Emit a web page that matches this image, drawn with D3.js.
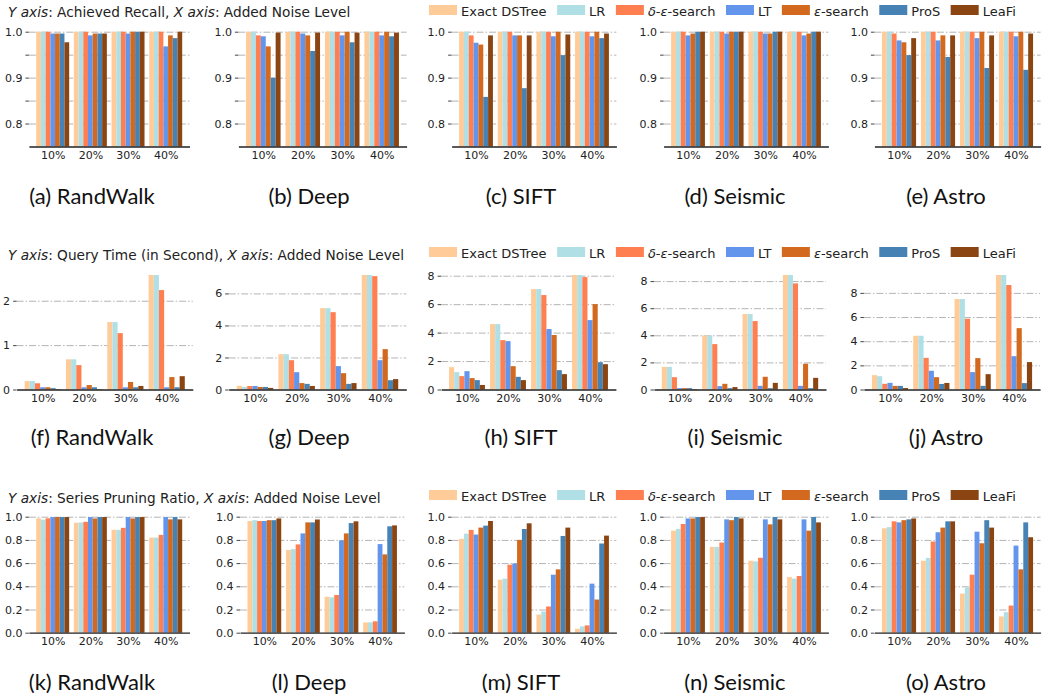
<!DOCTYPE html>
<html>
<head>
<meta charset="utf-8">
<script src="https://cdn.jsdelivr.net/npm/d3@7/dist/d3.min.js"></script>
<style>
  body { margin: 0; background: #fff; }
  svg { display: block; }
  .tick text { font-family: "DejaVu Sans", sans-serif; font-size: 11px; fill: #222; }
  .legend text, .row-title { font-family: "DejaVu Sans", sans-serif; fill: #222; }
  .caption { font-family: "Linux Biolinum O", Lato, sans-serif; font-size: 22px; fill: #111; }
</style>
</head>
<body>
<svg id="chart" width="1046" height="699"></svg>
<script>
// categories / series
const noiseLevels = ['10%', '20%', '30%', '40%'];
const methods = ['Exact DSTree', 'LR', 'δ-ε-search', 'LT', 'ε-search', 'ProS', 'LeaFi'];
const methodColors = ['#FFCC99', '#B0E0E6', '#FF7F50', '#6495ED', '#D2691E', '#4682B4', '#8B4513'];
const datasets = ['RandWalk', 'Deep', 'SIFT', 'Seismic', 'Astro'];

// achieved recall, one row per noise level, one value per method
const recallRandWalk = [
    [1.0, 1.0, 1.0, 0.996, 0.996, 0.996, 0.977],
    [1.0, 1.0, 1.0, 0.992, 0.996, 0.996, 0.996],
    [1.0, 1.0, 1.0, 0.996, 1.0, 1.0, 1.0],
    [1.0, 1.0, 1.0, 0.968, 0.992, 0.986, 1.0]
];
const recallDeep = [
    [1.0, 1.0, 0.992, 0.990, 0.968, 0.900, 0.998],
    [1.0, 1.0, 1.0, 0.996, 0.992, 0.958, 0.998],
    [1.0, 1.0, 1.0, 0.992, 1.0, 0.977, 0.998],
    [1.0, 1.0, 1.0, 0.992, 1.0, 0.990, 0.998]
];
const recallSIFT = [
    [1.0, 1.0, 0.992, 0.976, 0.972, 0.858, 0.992],
    [1.0, 1.0, 1.0, 0.992, 0.992, 0.877, 0.992],
    [1.0, 1.0, 1.0, 0.990, 1.0, 0.949, 0.994],
    [1.0, 1.0, 1.0, 0.990, 1.0, 0.986, 0.996]
];
const recallSeismic = [
    [1.0, 1.0, 1.0, 0.992, 0.996, 1.0, 1.0],
    [1.0, 1.0, 1.0, 0.996, 1.0, 1.0, 1.0],
    [1.0, 1.0, 1.0, 0.996, 0.996, 1.0, 1.0],
    [1.0, 1.0, 1.0, 0.992, 0.996, 1.0, 1.0]
];
const recallAstro = [
    [1.0, 1.0, 0.996, 0.981, 0.977, 0.949, 0.986],
    [1.0, 1.0, 1.0, 0.981, 0.992, 0.945, 0.992],
    [1.0, 1.0, 1.0, 0.986, 1.0, 0.921, 0.992],
    [1.0, 1.0, 1.0, 0.990, 1.0, 0.917, 0.996]
];

// query time in seconds
const timeRandWalk = [
    [0.19, 0.19, 0.14, 0.05, 0.05, 0.03, 0.01],
    [0.68, 0.68, 0.55, 0.05, 0.10, 0.05, 0.01],
    [1.52, 1.52, 1.27, 0.05, 0.17, 0.05, 0.08],
    [2.58, 2.58, 2.24, 0.05, 0.28, 0.05, 0.30]
];
const timeDeep = [
    [0.23, 0.16, 0.22, 0.22, 0.16, 0.16, 0.10],
    [2.21, 2.21, 1.83, 1.08, 0.40, 0.35, 0.22],
    [5.08, 5.08, 4.83, 1.46, 1.02, 0.35, 0.40],
    [7.15, 7.15, 7.08, 1.83, 2.52, 0.58, 0.65]
];
const timeSIFT = [
    [1.57, 1.22, 0.94, 1.29, 0.80, 0.66, 0.32],
    [4.60, 4.60, 3.47, 3.40, 1.64, 0.89, 0.66],
    [7.06, 7.06, 6.64, 4.25, 3.83, 1.36, 1.08],
    [8.05, 8.05, 7.90, 4.88, 6.00, 1.92, 1.78]
];
const timeSeismic = [
    [1.67, 1.67, 0.91, 0.10, 0.10, 0.10, 0.03],
    [3.99, 3.99, 3.35, 0.25, 0.42, 0.10, 0.18],
    [5.57, 5.57, 5.05, 0.27, 0.94, 0.10, 0.49],
    [8.45, 8.45, 7.83, 0.27, 1.90, 0.10, 0.86]
];
const timeAstro = [
    [1.19, 1.10, 0.47, 0.55, 0.30, 0.30, 0.12],
    [4.45, 4.45, 2.62, 1.55, 1.02, 0.46, 0.54],
    [7.49, 7.49, 5.86, 1.44, 2.60, 0.30, 1.27],
    [9.48, 9.48, 8.65, 2.76, 5.08, 0.53, 2.27]
];

// series pruning ratio
const pruneRandWalk = [
    [0.986, 0.975, 0.986, 0.997, 0.997, 0.997, 0.997],
    [0.948, 0.950, 0.956, 0.997, 0.985, 0.997, 0.997],
    [0.887, 0.887, 0.904, 0.997, 0.985, 0.997, 0.997],
    [0.820, 0.820, 0.843, 0.997, 0.977, 0.997, 0.977]
];
const pruneDeep = [
    [0.963, 0.970, 0.963, 0.963, 0.970, 0.970, 0.985],
    [0.713, 0.720, 0.761, 0.856, 0.951, 0.951, 0.976],
    [0.310, 0.305, 0.325, 0.796, 0.856, 0.945, 0.960],
    [0.089, 0.089, 0.098, 0.764, 0.675, 0.917, 0.925]
];
const pruneSIFT = [
    [0.809, 0.854, 0.886, 0.846, 0.906, 0.923, 0.963],
    [0.457, 0.466, 0.586, 0.597, 0.800, 0.894, 0.943],
    [0.157, 0.183, 0.226, 0.500, 0.546, 0.834, 0.906],
    [0.034, 0.054, 0.063, 0.423, 0.286, 0.769, 0.837]
];
const pruneSeismic = [
    [0.880, 0.895, 0.937, 0.985, 0.985, 0.997, 0.997],
    [0.740, 0.740, 0.777, 0.977, 0.970, 0.997, 0.985],
    [0.620, 0.615, 0.646, 0.977, 0.934, 0.997, 0.977],
    [0.480, 0.466, 0.489, 0.977, 0.880, 0.997, 0.951]
];
const pruneAstro = [
    [0.900, 0.910, 0.960, 0.951, 0.970, 0.977, 0.985],
    [0.620, 0.645, 0.786, 0.866, 0.906, 0.960, 0.960],
    [0.337, 0.391, 0.500, 0.871, 0.771, 0.970, 0.906],
    [0.140, 0.177, 0.234, 0.751, 0.546, 0.951, 0.823]
];

const svg = d3.select('#chart');
const barWidth = 0.125;
const groupHalf = barWidth * methods.length / 2;
const pad = 0.05 * (3 + 2 * groupHalf);

// plot left/right per row and column (subfigures are laid out one by one)
const panelX = [
    [[28.9, 189.5], [238.4, 406.6], [451.6, 616.4], [663.6, 828.4], [874.4, 1040.6]],
    [[16.6, 192.8], [228.7, 406.3], [441.1, 615.9], [654, 826], [863.9, 1040.1]],
    [[28.9, 189.5], [240, 404.4], [451.6, 616.4], [663.6, 828.4], [874.4, 1040.6]]
];
const captionX = [92, 309, 521, 735, 946];

const rows = [
    {
        metric: 'Achieved Recall', data: [recallRandWalk, recallDeep, recallSIFT, recallSeismic, recallAstro],
        top: 31.7, bottom: 146.5, titleY: 17, legendTop: 5, captionY: 204, letters: 'abcde'
    },
    {
        metric: 'Query Time (in Second)', data: [timeRandWalk, timeDeep, timeSIFT, timeSeismic, timeAstro],
        top: 275, bottom: 389.5, titleY: 260, legendTop: 247, captionY: 445, letters: 'fghij'
    },
    {
        metric: 'Series Pruning Ratio', data: [pruneRandWalk, pruneDeep, pruneSIFT, pruneSeismic, pruneAstro],
        top: 516.7, bottom: 632.7, titleY: 503, legendTop: 490, captionY: 690, letters: 'klmno'
    }
];

function yTicksFor(r, c, yMax){
    if(r === 0){
        return {grid: [0.8, 0.85, 0.9, 0.95, 1.0], fmt: v => (Math.abs(v * 10 - Math.round(v * 10)) < 1e-6) ? v.toFixed(1) : ''};
    }
    if(r === 1){
        let step = yMax < 4 ? 1 : 2;
        return {grid: d3.range(0, yMax + 1e-9, step), fmt: d3.format('d')};
    }
    return {grid: d3.range(0, 1.0001, 0.2), fmt: d3.format('.1f')};
}

function drawPanel(r, c){
    const row = rows[r];
    const values = row.data[c];
    const [left, right] = panelX[r][c];
    const g = svg.append('g');

    const x = d3.scaleLinear()
        .domain([-groupHalf - pad, 3 + groupHalf + pad])
        .range([left, right]);
    let yMin = 0, yMax;
    if(r === 0){ yMin = 0.75; yMax = 1.0; }
    else if(r === 1){ yMax = d3.max(values, d => d3.max(d)); }
    else { yMax = 1.0; }
    const y = d3.scaleLinear().domain([yMin, yMax]).range([row.bottom, row.top]);

    const ticks = yTicksFor(r, c, yMax);

    // dash-dot grid
    const grid = g.append('g')
        .attr('transform', `translate(${left},0)`)
        .call(d3.axisLeft(y).tickValues(ticks.grid.filter(v => v > yMin)).tickSize(-(right - left)).tickFormat(''));
    grid.select('.domain').remove();
    grid.selectAll('.tick line')
        .attr('stroke', '#b4b4b4')
        .attr('stroke-width', 1)
        .attr('stroke-dasharray', '7,2,1.5,2');

    // y tick marks and labels
    const yAxis = g.append('g')
        .attr('transform', `translate(${left},0)`)
        .call(d3.axisLeft(y).tickValues(ticks.grid).tickSize(3.5).tickPadding(3).tickFormat(ticks.fmt));
    yAxis.select('.domain').remove();
    yAxis.selectAll('.tick line').attr('stroke', '#444');
    yAxis.selectAll('.tick text').attr('font-family', null).attr('font-size', null);

    // bars
    const bars = [];
    values.forEach((groupVals, i) => {
        groupVals.forEach((v, j) => bars.push({i, j, v}));
    });
    g.append('g').selectAll('rect')
        .data(bars)
        .enter()
        .append('rect')
        .attr('x', d => x(d.i - groupHalf + d.j * barWidth))
        .attr('width', x(barWidth) - x(0))
        .attr('y', d => y(d.v))
        .attr('height', d => y(yMin) - y(d.v))
        .attr('fill', d => methodColors[d.j]);

    // bottom spine + noise level labels
    const xAxis = g.append('g')
        .attr('transform', `translate(0,${row.bottom})`)
        .call(d3.axisBottom(x).tickValues([0, 1, 2, 3]).tickSize(0).tickSizeOuter(0).tickPadding(5)
            .tickFormat(i => noiseLevels[i]));
    xAxis.select('.domain').attr('stroke', '#222').attr('stroke-width', 1.3);
    xAxis.selectAll('.tick text').attr('font-family', null).attr('font-size', null);

    // caption
    svg.append('text')
        .attr('class', 'caption')
        .attr('x', captionX[c])
        .attr('y', row.captionY)
        .attr('text-anchor', 'middle')
        .text(`(${row.letters[c]}) ${datasets[c]}`);
}

function drawTitle(row){
    const t = svg.append('text')
        .attr('class', 'row-title')
        .attr('x', 8)
        .attr('y', row.titleY)
        .attr('font-size', 13.7);
    t.append('tspan').attr('font-style', 'italic').text('Y axis');
    t.append('tspan').text(`: ${row.metric}, `);
    t.append('tspan').attr('font-style', 'italic').text('X axis');
    t.append('tspan').text(': Added Noise Level');
}

function drawLegend(row){
    const lg = svg.append('g').attr('class', 'legend');
    let cursor = 429;
    methods.forEach((m, j) => {
        lg.append('rect')
            .attr('x', cursor).attr('y', row.legendTop)
            .attr('width', 28).attr('height', 10)
            .attr('fill', methodColors[j]);
        const txt = lg.append('text')
            .attr('x', cursor + 32)
            .attr('y', row.legendTop + 10.5)
            .attr('font-size', 13);
        // greek letters are set in italic (math mode in the original)
        m.split(/([δε])/).filter(s => s.length).forEach(part => {
            txt.append('tspan')
                .attr('font-style', /[δε]/.test(part) ? 'italic' : null)
                .text(part);
        });
        cursor += 32 + txt.node().getComputedTextLength() + 10.5;
    });
}

rows.forEach((row, r) => {
    drawTitle(row);
    drawLegend(row);
    for(let c = 0; c < datasets.length; c++){
        drawPanel(r, c);
    }
});
</script>
</body>
</html>
